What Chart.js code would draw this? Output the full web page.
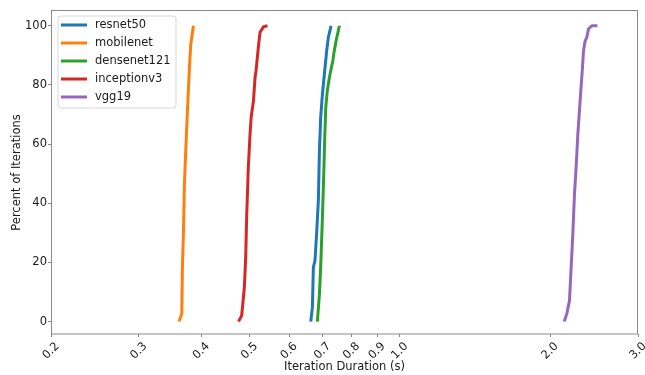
<!DOCTYPE html>
<html>
<head>
<meta charset="utf-8">
<script src="https://cdn.jsdelivr.net/npm/chart.js@4.4.1/dist/chart.umd.min.js"></script>
<style>
  html, body { margin: 0; padding: 0; background: #ffffff; }
  #wrap { width: 645px; height: 375px; }
</style>
</head>
<body>
<div id="wrap"><canvas id="c" width="645" height="375"></canvas></div>
<script>
// ---- Data ----
const seriesNames = ["resnet50", "mobilenet", "densenet121", "inceptionv3", "vgg19"];
const seriesColors = ["#1f77b4", "#ff7f0e", "#2ca02c", "#d62728", "#9467bd"];

const resnetX = [0.663, 0.668, 0.671, 0.676, 0.681, 0.6866, 0.690, 0.694, 0.6996, 0.706, 0.7135, 0.719, 0.728];
const resnetY = [0, 4.8, 18.4, 20.6, 29.6, 40.9, 57.8, 69.0, 76.9, 83.7, 91.6, 96.1, 100];

const mobilenetX = [0.361, 0.3656, 0.3667, 0.3684, 0.3701, 0.3724, 0.3753, 0.3788, 0.3811, 0.3858];
const mobilenetY = [0, 2.6, 18.4, 29.6, 46.5, 57.8, 71.3, 85.9, 93.8, 100];

const densenetX = [0.6834, 0.690, 0.694, 0.6996, 0.7045, 0.7075, 0.7105, 0.7154, 0.7246, 0.734, 0.738, 0.745, 0.7566];
const densenetY = [0, 9.3, 18.4, 35.2, 52.1, 63.4, 72.4, 78.0, 83.7, 88.2, 91.0, 94.9, 100];

const inceptionX = [0.475, 0.482, 0.488, 0.491, 0.4932, 0.497, 0.501, 0.5035, 0.509, 0.5127, 0.515, 0.5205, 0.5245, 0.533, 0.543];
const inceptionY = [0, 2.0, 11.6, 21.7, 35.2, 52.1, 63.4, 69.0, 74.7, 82.5, 84.8, 92.7, 97.7, 99.7, 100];

const vggX = [2.134, 2.16, 2.187, 2.204, 2.221, 2.238, 2.255, 2.273, 2.297, 2.322, 2.333, 2.351, 2.369, 2.387, 2.424, 2.488];
const vggY = [0, 2.6, 7.1, 18.4, 29.6, 43.1, 52.1, 63.4, 74.7, 85.9, 91.6, 94.9, 96.1, 98.9, 100, 100];

const xTickValues = [0.2, 0.3, 0.4, 0.5, 0.6, 0.7, 0.8, 0.9, 1.0, 2.0, 3.0];
const xTickLabels = ["0.2", "0.3", "0.4", "0.5", "0.6", "0.7", "0.8", "0.9", "1.0", "2.0", "3.0"];
const yTickValues = [0, 20, 40, 60, 80, 100];

const xTitle = "Iteration Duration (s)";
const yTitle = "Percent of Iterations";

// ---- Build datasets ----
const seriesX = [resnetX, mobilenetX, densenetX, inceptionX, vggX];
const seriesY = [resnetY, mobilenetY, densenetY, inceptionY, vggY];

const datasets = seriesNames.map((name, i) => ({
  label: name,
  data: seriesX[i].map((x, j) => ({ x: x, y: seriesY[i][j] })),
  borderColor: seriesColors[i],
  backgroundColor: seriesColors[i],
  borderWidth: 3,
  borderJoinStyle: "round",
  borderCapStyle: "butt",
  pointRadius: 0,
  tension: 0,
  fill: false
}));

const FONT = "'DejaVu Sans', sans-serif";
const TEXT = "#1a1a1a";
const FRAME = "#8a8a8a";

// Frame, rotated x labels and legend
const decor = {
  id: "decor",
  afterDraw(chart) {
    const ctx = chart.ctx;
    const a = chart.chartArea;
    ctx.save();
    // frame
    ctx.strokeStyle = FRAME;
    ctx.lineWidth = 1;
    ctx.strokeRect(Math.round(a.left) + 0.5, Math.round(a.top) - 0.5,
                   Math.round(a.right - a.left) - 1, Math.round(a.bottom - a.top) + 0.5);
    // x tick labels, rotated 45deg, centered on the tick
    const xs = chart.scales.x;
    ctx.fillStyle = TEXT;
    ctx.font = "11.5px " + FONT;
    ctx.textAlign = "center";
    ctx.textBaseline = "middle";
    xTickValues.forEach((v, i) => {
      const px = xs.getPixelForValue(v);
      ctx.save();
      ctx.translate(px, a.bottom + 17);
      ctx.rotate(-Math.PI / 4);
      ctx.fillText(xTickLabels[i], 0, 0);
      ctx.restore();
    });
    // legend
    const bx = 58, by = 16, bw = 118, bh = 92, r = 3;
    ctx.beginPath();
    ctx.moveTo(bx + r, by);
    ctx.lineTo(bx + bw - r, by);
    ctx.quadraticCurveTo(bx + bw, by, bx + bw, by + r);
    ctx.lineTo(bx + bw, by + bh - r);
    ctx.quadraticCurveTo(bx + bw, by + bh, bx + bw - r, by + bh);
    ctx.lineTo(bx + r, by + bh);
    ctx.quadraticCurveTo(bx, by + bh, bx, by + bh - r);
    ctx.lineTo(bx, by + r);
    ctx.quadraticCurveTo(bx, by, bx + r, by);
    ctx.closePath();
    ctx.fillStyle = "rgba(255,255,255,0.8)";
    ctx.fill();
    ctx.strokeStyle = "#d6d6d6";
    ctx.lineWidth = 1;
    ctx.stroke();
    ctx.textAlign = "left";
    ctx.textBaseline = "middle";
    chart.data.datasets.forEach((ds, i) => {
      const y = 25 + i * 18;
      ctx.strokeStyle = ds.borderColor;
      ctx.lineWidth = 3;
      ctx.beginPath();
      ctx.moveTo(61, y);
      ctx.lineTo(87, y);
      ctx.stroke();
      ctx.fillStyle = TEXT;
      ctx.fillText(ds.label, 95, y + 0.5);
    });
    ctx.restore();
  }
};

new Chart(document.getElementById("c"), {
  type: "line",
  data: { datasets: datasets },
  options: {
    responsive: false,
    animation: false,
    devicePixelRatio: 1,
    layout: { padding: { top: 11, right: 7, left: 0, bottom: 0 } },
    plugins: { legend: { display: false }, tooltip: { enabled: false } },
    scales: {
      x: {
        type: "logarithmic",
        min: 0.2,
        max: 3.0,
        afterBuildTicks: (s) => { s.ticks = xTickValues.map(v => ({ value: v })); },
        afterFit: (s) => { s.height = 41; },
        ticks: { display: false },
        grid: { drawOnChartArea: false, drawTicks: true, tickLength: 3, color: FRAME },
        border: { display: false },
        title: { display: true, text: xTitle, color: TEXT, font: { family: FONT, size: 11.5 }, padding: { top: 0, bottom: 1 } }
      },
      y: {
        type: "linear",
        min: -4.2,
        max: 105,
        afterBuildTicks: (s) => { s.ticks = yTickValues.map(v => ({ value: v })); },
        afterFit: (s) => { s.width = 51; },
        ticks: { color: TEXT, font: { family: FONT, size: 11.5 }, padding: 1 },
        grid: { drawOnChartArea: false, drawTicks: true, tickLength: 3, color: FRAME },
        border: { display: false },
        title: { display: true, text: yTitle, color: TEXT, font: { family: FONT, size: 11.5 }, padding: { top: 10, bottom: 0 } }
      }
    }
  },
  plugins: [decor]
});
</script>
</body>
</html>
